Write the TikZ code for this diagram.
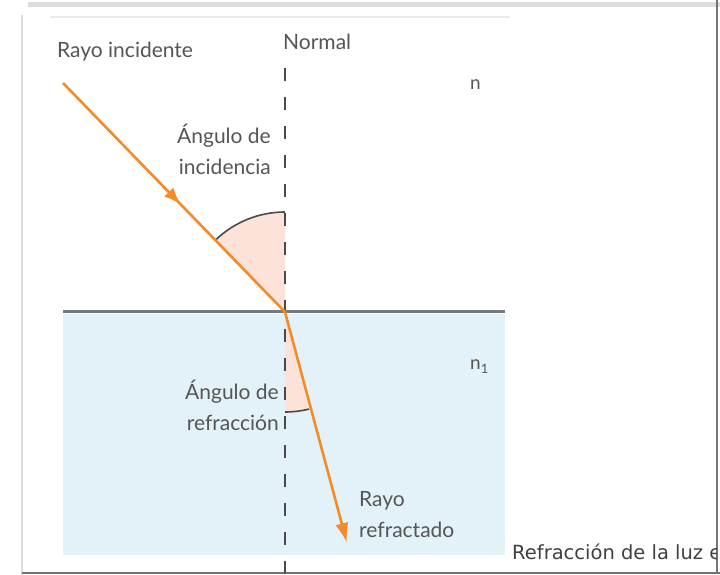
\documentclass[tikz,border=0pt]{standalone}
\usepackage{fontspec}
\setmainfont{Lato}
\newfontfamily\captionfont{DejaVu Sans}
\usepackage{tikz}
\usetikzlibrary{arrows.meta,decorations.markings}
\definecolor{rayorange}{HTML}{F28C28}
\definecolor{labelgray}{HTML}{555555}
\definecolor{surfacegray}{HTML}{707C7C}
\definecolor{waterblue}{HTML}{E2F2F8}
\definecolor{anglepink}{HTML}{FCE2D8}
\definecolor{arcgray}{HTML}{4A4A4A}
\definecolor{framegray}{HTML}{DDDDDD}

\begin{document}
\begin{tikzpicture}[
    x=1pt, y=1pt,
    lbl/.style={inner sep=0pt, font=\fontsize{21}{31}\selectfont, text=labelgray},
    idx/.style={inner sep=0pt, font=\fontsize{19}{22}\selectfont, text=labelgray},
    ray/.style={line width=2.6pt, color=rayorange},
    normalline/.style={line width=2.2pt, color=arcgray, dash pattern=on 13pt off 16pt},
    anglearc/.style={line width=1.6pt, color=arcgray},
    anglefill/.style={fill=anglepink}
]
  \useasboundingbox (0,0) rectangle (720,575);

  % page frame
  \draw[framegray, line width=5pt] (28,570) -- (720,570);
  \draw[framegray, line width=2.5pt] (22,0) -- (22,560);
  \draw[black!8, line width=2.5pt] (50,558) -- (510,558);
  \draw[black!55, line width=1.5pt] (22,2) -- (720,2);
  \draw[black!55, line width=1.5pt] (717,2) -- (717,575);

  % media
  \fill[waterblue] (63,20) rectangle (505,261);
  \coordinate (hit) at (285,263);
  \coordinate (src) at (63,492);
  \coordinate (tip) at (347,32);
  \coordinate (ntop) at (285,507);
  \coordinate (nbot) at (285,0);

  % angles
  \fill[anglefill] (hit) -- ++(90:100) arc[start angle=90, end angle=134, radius=100] -- cycle;
  \draw[anglearc] (hit) ++(90:100) arc[start angle=90, end angle=134, radius=100];
  \fill[anglefill] (hit) -- ++(-90:100) arc[start angle=-90, end angle=-76, radius=100] -- cycle;
  \draw[anglearc] (hit) ++(-90:100) arc[start angle=-90, end angle=-76, radius=100];

  \draw[normalline] (ntop) -- (nbot);
  \draw[surfacegray, line width=3pt] (63,263) -- (505,263);

  % rays
  \draw[ray, postaction={decorate}, decoration={markings, mark=at position 0.53 with {\arrow{Latex[length=17pt,width=13pt]}}}] (src) -- (hit);
  \draw[ray, -{Latex[length=20pt,width=13pt]}] (hit) -- (tip);

  \node[lbl, anchor=base west] (rayinc) at (57,517) {Rayo incidente};
  \node[lbl, anchor=base west] (normal) at (283,525) {Normal};
  \node[idx, anchor=base west] (n0) at (470,485) {n};
  \node[lbl, anchor=base east, align=right] (anginc) at (271,400) {Ángulo de\\incidencia};
  \node[idx, anchor=base west] (n1) at (470,205) {n\raisebox{-4pt}{\fontsize{13}{13}\selectfont 1}};
  \node[lbl, anchor=base east, align=right] (angref) at (279,144) {Ángulo de\\refracción};
  \node[lbl, anchor=base west, align=left] (rayref) at (359,37) {Rayo\\refractado};

  \begin{scope}
    \clip (0,0) rectangle (716,575);
    \node[inner sep=0pt, anchor=base west, font=\captionfont\fontsize{19.5}{22}\selectfont, text=black!75] (caption) at (512,15) {Refracción de la luz en};
  \end{scope}
\end{tikzpicture}
\end{document}
